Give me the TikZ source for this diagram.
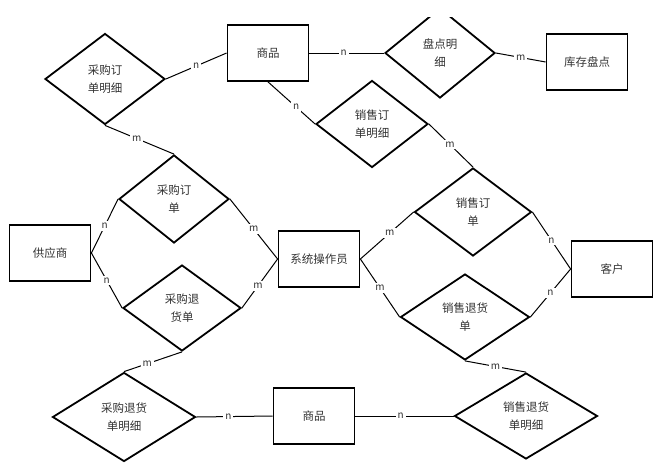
\documentclass[tikz,border=0pt]{standalone}
\usepackage{fontspec}
\setmainfont{Noto Sans CJK SC}
\usetikzlibrary{shapes.geometric}
\tikzset{
  entity/.style={draw,line width=1.8pt,minimum width=81pt,minimum height=56pt,inner sep=0pt,text=black!80,font=\fontsize{11.5}{18}\selectfont},
  rel/.style={draw,diamond,line width=1.8pt,inner sep=0pt,align=center,text=black!80,font=\fontsize{11.5}{18}\selectfont},
  lab/.style={fill=white,inner sep=2pt,text=black!80,font=\fontsize{10}{10}\selectfont},
  conn/.style={line width=1pt}
}
\begin{document}
\begin{tikzpicture}[x=1pt,y=-1pt]
	\useasboundingbox (0,0) rectangle (660,466);
	\clip (0,17) rectangle (660,466);
	% entities
	\node[entity] (spA) at (268,53) {商品};
	\node[entity] (kcpd) at (587,62) {库存盘点};
	\node[entity] (gys) at (50,253) {供应商};
	\node[entity] (czy) at (319,259) {系统操作员};
	\node[entity] (kh) at (612,269) {客户};
	\node[entity] (spB) at (314,416) {商品};

	% relations
	\node[rel,minimum width=120pt,minimum height=91pt] (cgmx) at (105,79) {采购订\\单明细};
	\node[rel,minimum width=110pt,minimum height=90pt] (pdmx) at (440,53) {盘点明\\细};
	\node[rel,minimum width=112pt,minimum height=87pt] (xsmx) at (372,124) {销售订\\单明细};
	\node[rel,minimum width=110pt,minimum height=88pt] (cgd) at (174,199) {采购订\\单};
	\node[rel,minimum width=117pt,minimum height=88pt] (xsd) at (473,212) {销售订\\单};
	\node[rel,minimum width=118pt,minimum height=86pt] (cgth) at (182,308) {采购退\\货单};
	\node[rel,minimum width=129pt,minimum height=86pt] (xsth) at (465,317) {销售退货\\单};
	\node[rel,minimum width=143pt,minimum height=89pt] (cgthmx) at (124,417) {采购退货\\单明细};
	\node[rel,minimum width=143pt,minimum height=86pt] (xsthmx) at (526,416) {销售退货\\单明细};

	% connectors
	\draw[conn] (cgmx.east) edge node[lab]{n} (spA.west);
	\draw[conn] (spA.east) edge node[lab,pos=0.46]{n} (pdmx.west);
	\draw[conn] (pdmx.east) edge node[lab]{m} (kcpd.west);
	\draw[conn] (spA.south) edge node[lab,pos=0.6]{n} (xsmx.west);
	\draw[conn] (cgmx.south) edge node[lab,pos=0.46]{m} (cgd.north);
	\draw[conn] (xsmx.east) edge node[lab,pos=0.48]{m} (xsd.north);
	\draw[conn] (cgd.west) edge node[lab]{n} (gys.east);
	\draw[conn] (cgd.east) edge node[lab]{m} (czy.west);
	\draw[conn] (gys.east) edge node[lab]{n} (cgth.west);
	\draw[conn] (cgth.east) edge node[lab,pos=0.45]{m} (czy.west);
	\draw[conn] (czy.east) edge node[lab,pos=0.55]{m} (xsd.west);
	\draw[conn] (xsd.east) edge node[lab]{n} (kh.west);
	\draw[conn] (czy.east) edge node[lab]{m} (xsth.west);
	\draw[conn] (xsth.east) edge node[lab]{n} (kh.west);
	\draw[conn] (cgth.south) edge node[lab,pos=0.6]{m} (cgthmx.north);
	\draw[conn] (cgthmx.east) edge node[lab,pos=0.42]{n} (spB.west);
	\draw[conn] (spB.east) edge node[lab,pos=0.46]{n} (xsthmx.west);
	\draw[conn] (xsth.south) edge node[lab]{m} (xsthmx.north);
\end{tikzpicture}
\end{document}
